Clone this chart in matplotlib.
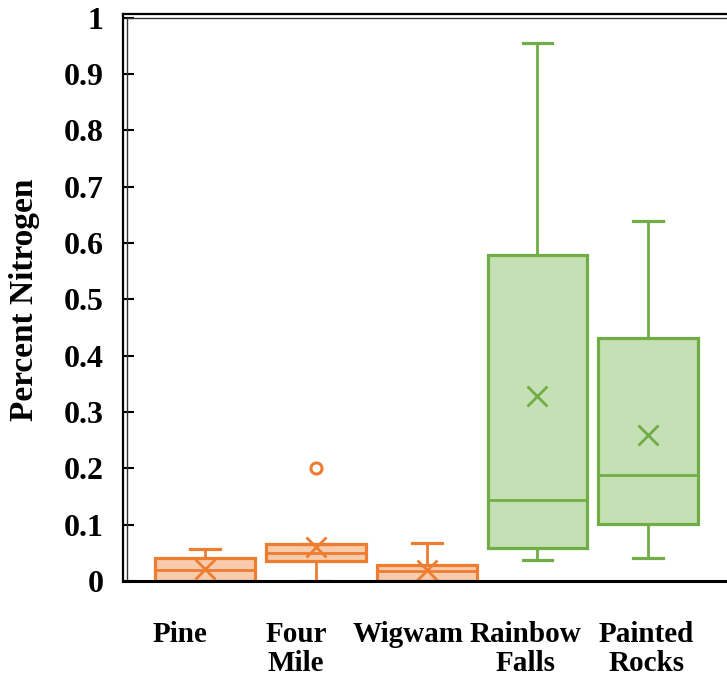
import matplotlib
matplotlib.use("Agg")
import matplotlib.pyplot as plt
import matplotlib.transforms as mtransforms

# ── data ──────────────────────────────────────────────────────────────────
sites = ["Pine", "Four\nMile", "Wigwam", "Rainbow\nFalls", "Painted\nRocks"]
q1 = [0.000, 0.036, 0.000, 0.058, 0.102]
median = [0.020, 0.049, 0.017, 0.143, 0.189]
q3 = [0.041, 0.065, 0.029, 0.578, 0.431]
whisker_low = [0.000, 0.000, 0.000, 0.037, 0.040]
whisker_high = [0.057, 0.065, 0.067, 0.955, 0.639]
mean = [0.022, 0.060, 0.019, 0.328, 0.260]
outliers = [[], [0.200], [], [], []]
group = ["orange", "orange", "orange", "green", "green"]

edge = {"orange": "#ED7D31", "green": "#70AD47"}
fill = {"orange": "#F8CBAD", "green": "#C5E0B4"}

# horizontal nudge of each category label (px), as in the source layout
label_dx = [-25, -20, -19, -12, -2]

plt.rcParams["font.family"] = ["Liberation Serif", "DejaVu Serif"]
plt.rcParams["font.weight"] = "bold"

fig = plt.figure(figsize=(7.27, 6.8), dpi=100)
W, H = 727, 680
ax = fig.add_axes([123 / W, 1 - 581 / H, (W - 123) / W, (581 - 14) / H])

positions = list(range(1, len(sites) + 1))
for i, pos in enumerate(positions):
    st = {"med": median[i], "q1": q1[i], "q3": q3[i],
          "whislo": whisker_low[i], "whishi": whisker_high[i],
          "mean": mean[i], "fliers": outliers[i]}
    c = edge[group[i]]
    ax.bxp([st], positions=[pos], widths=0.9, capwidths=0.27,
           showmeans=True, patch_artist=True,
           boxprops=dict(facecolor=fill[group[i]], edgecolor=c, linewidth=2.3),
           medianprops=dict(color=c, linewidth=2.0),
           whiskerprops=dict(color=c, linewidth=2.0),
           capprops=dict(color=c, linewidth=2.3),
           meanprops=dict(marker="x", markeredgecolor=c, markersize=15,
                          markeredgewidth=2.0),
           flierprops=dict(marker="o", markerfacecolor="white",
                           markeredgecolor=c, markersize=8,
                           markeredgewidth=2.2))

ax.set_xlim(0.26, 5.71)
ax.set_ylim(0, 1.0066)
ax.set_yticks([0, 0.1, 0.2, 0.3, 0.4, 0.5, 0.6, 0.7, 0.8, 0.9, 1.0])
ax.set_yticklabels(["0", "0.1", "0.2", "0.3", "0.4", "0.5", "0.6",
                    "0.7", "0.8", "0.9", "1"])
ax.set_xticks(positions)
ax.set_xticklabels([])

# category labels, placed under each box with a small offset
for pos, name, dx in zip(positions, sites, label_dx):
    tr = ax.get_xaxis_transform() + mtransforms.ScaledTranslation(
        dx / 100, -40 / 100, fig.dpi_scale_trans)
    ax.text(pos, 0, name, transform=tr, ha="center", va="top",
            multialignment="center", fontsize=21, fontweight="bold",
            linespacing=1.1)

ax.tick_params(axis="y", direction="in", length=8, width=1.5, pad=14,
               labelsize=23)
ax.tick_params(axis="x", length=0)
for lab in ax.get_yticklabels():
    lab.set_fontweight("bold")

ax.spines["right"].set_visible(False)
for s in ["left", "top", "bottom"]:
    ax.spines[s].set_color("black")
ax.spines["left"].set_linewidth(1.6)
ax.spines["top"].set_linewidth(1.6)
ax.spines["bottom"].set_linewidth(2.2)

# inner frame line (double border look)
tr_l = mtransforms.offset_copy(ax.transAxes, fig=fig, x=4, y=0, units="dots")
tr_t = mtransforms.offset_copy(ax.transAxes, fig=fig, x=0, y=-4, units="dots")
ax.plot([0, 0], [0, 0.993], color="#333333", lw=1.0, transform=tr_l,
        clip_on=False)
ax.plot([0.007, 1], [1, 1], color="#333333", lw=1.0, transform=tr_t,
        clip_on=False)

fig.text(25 / W, 1 - 300 / H, "Percent Nitrogen", rotation=90,
         ha="center", va="center", fontsize=24, fontweight="bold")

fig.savefig("out.png", dpi=100)
